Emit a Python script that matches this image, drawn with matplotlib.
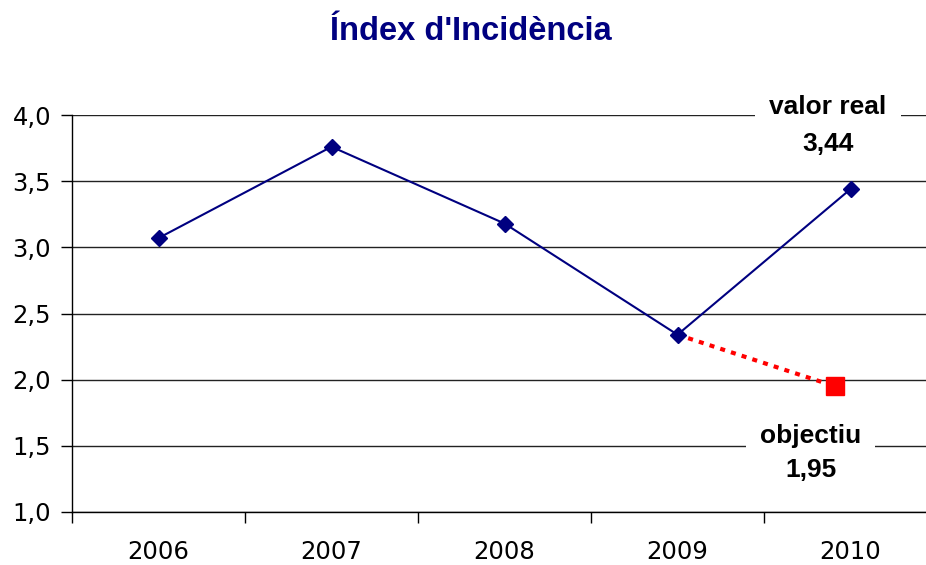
import numpy as np
import matplotlib
matplotlib.use("Agg")
from matplotlib import pyplot as plt
from matplotlib.ticker import FuncFormatter, FixedLocator

# chart data
years = ["2006", "2007", "2008", "2009", "2010"]
real_values = [3.07, 3.76, 3.18, 2.34, 3.44]
target_years = ["2009", "2010"]
target_values = [2.34, 1.95]
y_ticks = [1.0, 1.5, 2.0, 2.5, 3.0, 3.5, 4.0]

NAVY = "#000080"
RED = "#ff0000"


def comma(v, decimals=1):
    return f"{v:.{decimals}f}".replace(".", ",")


fig = plt.figure(figsize=(9.26, 5.65), dpi=100)
ax = fig.add_axes([72 / 926, 53 / 565, 865 / 926, 397 / 565])

x_real = np.arange(len(years))
x_target = np.array([years.index(y) for y in target_years], dtype=float)
x_target[-1] -= 0.09  # excel draws the target square a bit left of centre

ax.plot(x_target, target_values, color=RED, lw=3.0, ls=(0, (1.2, 1.5)), zorder=3)
ax.plot(x_target[-1:], target_values[-1:], marker="s", ms=13, color=RED, ls="none", zorder=4)
ax.plot(x_real, real_values, color=NAVY, lw=1.5, marker="D", ms=8, zorder=5)

ax.set_xlim(-0.5, len(years) - 0.5)
ax.set_ylim(y_ticks[0], y_ticks[-1])
ax.set_yticks(y_ticks)
ax.yaxis.set_major_formatter(FuncFormatter(lambda v, p: comma(v)))
ax.set_xticks(x_real)
ax.set_xticklabels(years)
ax.xaxis.set_minor_locator(FixedLocator(np.arange(-0.5, len(years), 1.0)))
ax.tick_params(axis="x", which="major", length=0, pad=20, labelsize=17.5)
ax.tick_params(axis="x", which="minor", length=8, width=1, direction="out")
ax.tick_params(axis="y", length=8, width=1, direction="out", pad=7, labelsize=17.5)
for lab in ax.get_xticklabels() + ax.get_yticklabels():
    lab.set_fontfamily("DejaVu Sans")

ax.grid(axis="y", color="#222222", lw=1.0)
ax.set_axisbelow(True)
for s in ["top", "right"]:
    ax.spines[s].set_visible(False)
ax.spines["left"].set_linewidth(1.0)
ax.spines["bottom"].set_linewidth(1.0)
ax.spines["left"].set_zorder(2)

lbl = dict(ha="center", va="baseline", fontsize=19, fontweight="bold",
           family="Liberation Sans", zorder=6)
box = dict(facecolor="white", edgecolor="none", pad=10)
ax.text(3.87, 4.007, "valor real", bbox=box, **lbl)
ax.text(3.87, 3.728, comma(real_values[-1], 2), **lbl)
ax.text(3.77, 1.52, "objectiu", bbox=box, **lbl)
ax.text(3.77, 1.264, comma(target_values[-1], 2), **lbl)

fig.text(471 / 926, 1 - 32 / 565, "Índex d'Incidència", ha="center", va="center",
         fontsize=23.5, fontweight="bold", color=NAVY, family="Liberation Sans")

fig.savefig("out.png", dpi=100)
